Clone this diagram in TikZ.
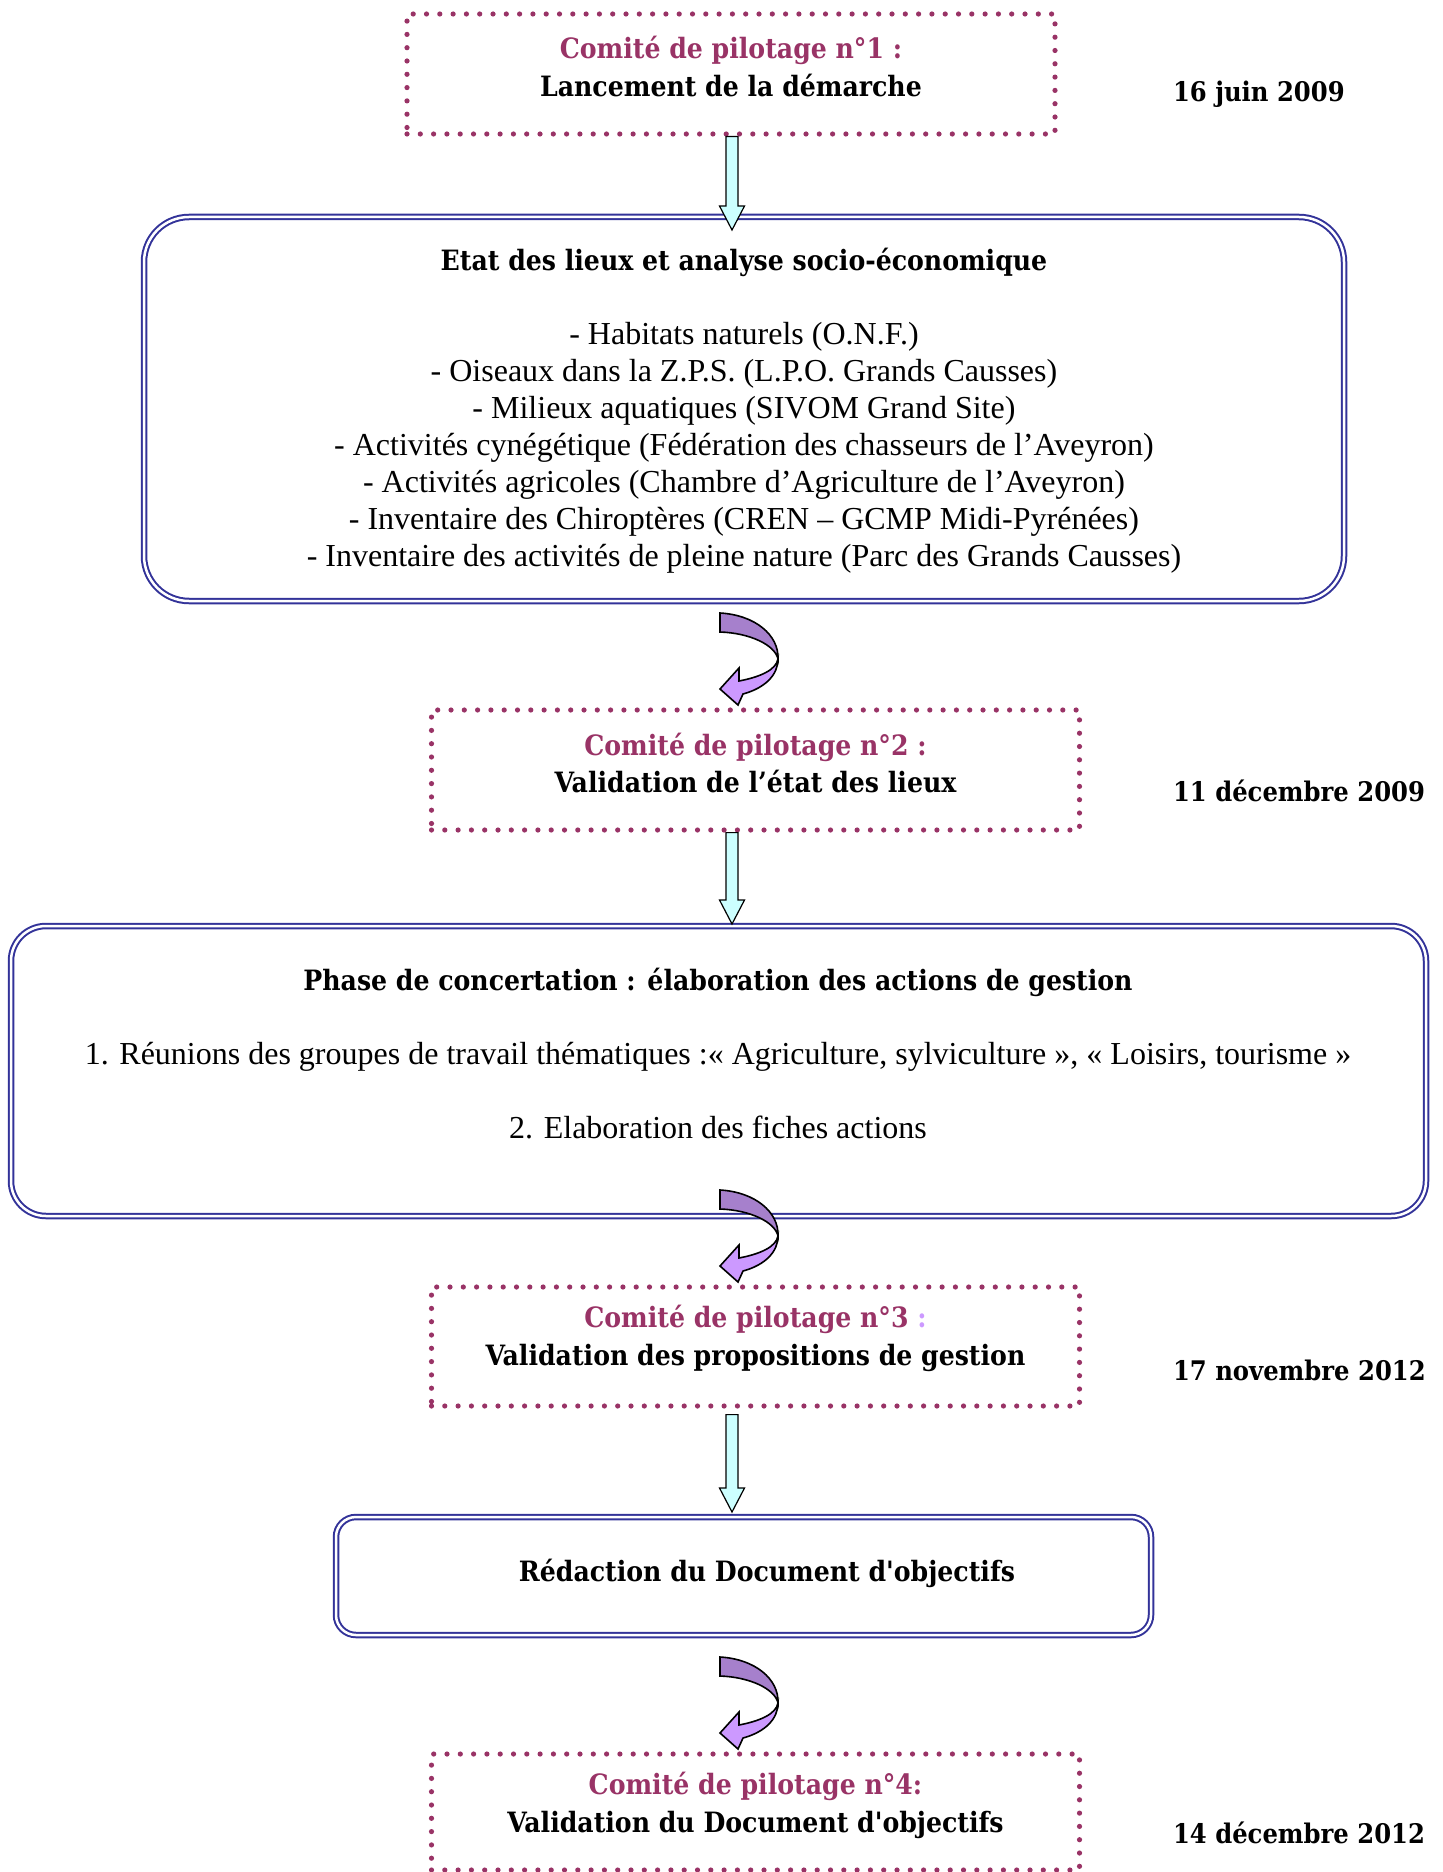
\documentclass[tikz,border=0pt]{standalone}
\usepackage{fontspec}
\setmainfont{Liberation Serif}
\newfontfamily\slab{DejaVu Serif Condensed}
\usetikzlibrary{calc}
\definecolor{comite}{HTML}{993366}
\definecolor{bluebd}{HTML}{333399}
\definecolor{cyanfill}{HTML}{CCFFFF}
\definecolor{lavdark}{HTML}{A680CC}
\definecolor{lavlight}{HTML}{CC99FF}
\newcommand\fatarrow[2]{\draw[fatarr] let \p1=(#1), \p2=(#2) in
  (\x1-3pt,\y1) -- (\x1-3pt,\y2+12pt) -- (\x1-6.25pt,\y2+12pt) -- (\x1,\y2)
  -- (\x1+6.25pt,\y2+12pt) -- (\x1+3pt,\y2+12pt) -- (\x1+3pt,\y1) -- cycle;}
\begin{document}
\begin{tikzpicture}[x=0.5pt,y=-0.5pt,
  dotbox/.style={draw=comite, line width=2.6pt, line cap=round, dash pattern=on 0pt off 6.65pt,
    minimum width=324pt, minimum height=60pt, inner sep=0pt},
  dblbox/.style={draw=bluebd, double=white, line width=1pt, double distance=1.25pt, inner sep=0pt},
  ttl/.style={font=\slab\bfseries\fontsize{14}{18.8}\selectfont, align=center},
  body/.style={font=\fontsize{16}{18.5}\selectfont, align=center},
  date/.style={font=\slab\bfseries\fontsize{13.5}{15}\selectfont, anchor=west},
  fatarr/.style={draw=black, fill=cyanfill, line width=0.6pt, line join=miter},
  curvedge/.style={draw=black, line width=0.8pt, line join=miter},
  curvarrow/.pic={
    \draw[curvedge, fill=lavdark] (0,0) .. controls (35,2) and (59,22) .. (58,46)
      .. controls (55,32) and (30,20) .. (0,19) -- cycle;
    \draw[curvedge, fill=lavlight] (58,46) .. controls (58,62) and (45,75) .. (23,81)
      -- (18,92) -- (0,76) -- (19,55) -- (19,68) .. controls (40,64) and (56,57) .. (58,46) -- cycle;
  }]
\useasboundingbox (0,0) rectangle (1442,1872);

% boxes
\node[dotbox] (b1) at (731,74) {};
\node[dblbox, minimum width=600pt, minimum height=192pt, rounded corners=22.5pt] (b2) at (744,409) {};
\node[dotbox] (b3) at (755.5,770) {};
\node[dblbox, minimum width=707.5pt, minimum height=145pt, rounded corners=17.5pt] (b4) at (718.5,1071) {};
\node[dotbox, minimum height=59.5pt] (b5) at (755.5,1346.5) {};
\node[dblbox, minimum width=407.5pt, minimum height=59pt, rounded corners=10pt] (b6) at (743.5,1576) {};
\node[dotbox, minimum height=58pt] (b7) at (755.5,1812) {};

% texts
\node[ttl] (t1) at (731,66.5) {{\color{comite}Comité de pilotage n°1 :}\\Lancement de la démarche};
\node[body] (t2) at (744,411) {{\slab\bfseries\fontsize{14}{18.5}\selectfont Etat des lieux et analyse socio-économique}\\[18.5pt]
- Habitats naturels (O.N.F.)\\
- Oiseaux dans la Z.P.S. (L.P.O. Grands Causses)\\
- Milieux aquatiques (SIVOM Grand Site)\\
- Activités cynégétique (Fédération des chasseurs de l’Aveyron)\\
- Activités agricoles (Chambre d’Agriculture de l’Aveyron)\\
- Inventaire des Chiroptères (CREN – GCMP Midi-Pyrénées)\\
- Inventaire des activités de pleine nature (Parc des Grands Causses)};
\node[ttl] (t3) at (755.5,763) {{\color{comite}Comité de pilotage n°2 :}\\Validation de l’état des lieux};
\node[body] (t4) at (718,1054) {{\slab\bfseries\fontsize{14}{18.5}\selectfont Phase de concertation : élaboration des actions de gestion}\\[18.5pt]
1. Réunions des groupes de travail thématiques :« Agriculture, sylviculture », « Loisirs, tourisme »\\[18.5pt]
2. Elaboration des fiches actions};
\node[ttl] (t5) at (755.5,1338.5) {{\color{comite}Comité de pilotage n°3 }{\color{lavlight}:}\\Validation des propositions de gestion};
\node[ttl] (t6) at (767,1573.5) {Rédaction du Document d'objectifs};
\node[ttl] (t7) at (755.5,1805.5) {{\color{comite}Comité de pilotage n°4:}\\Validation du Document d'objectifs};

% dates
\node[date] (d1) at (1166,94) {16 juin 2009};
\node[date] (d2) at (1166,791) {11 décembre 2009};
\node[date] (d3) at (1166,1370) {17 novembre 2012};
\node[date] (d4) at (1166,1833) {14 décembre 2012};

% straight arrows
\coordinate (col) at (732,0);
\fatarrow{col |- b1.south}{$(col |- b2.north)+(0,14)$}
\fatarrow{col |- b3.south}{$(col |- b4.north)+(0,-1)$}
\fatarrow{$(col |- b5.south)+(0,6)$}{$(col |- b6.north)+(0,-4)$}

% curved arrows
\pic (c1) at ($(col |- b2.south)+(-12,11)$) {curvarrow};
\pic (c2) at ($(col |- b4.south)+(-12,-27)$) {curvarrow};
\pic (c3) at ($(col |- b6.south)+(-12,21)$) {curvarrow};
\end{tikzpicture}
\end{document}
